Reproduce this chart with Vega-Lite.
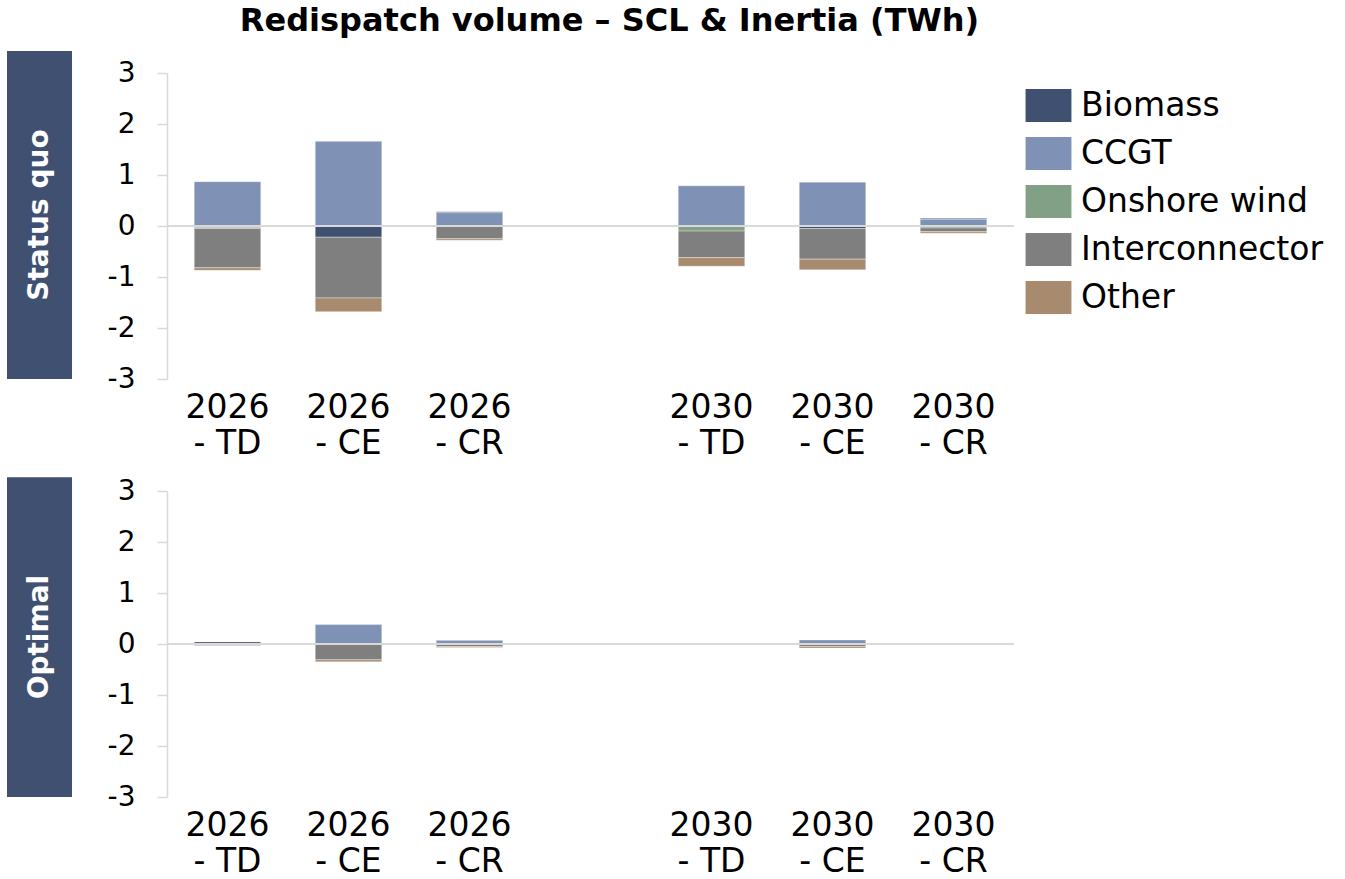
{
  "$schema": "https://vega.github.io/schema/vega-lite/v6.json",
  "padding": {"left": 7, "top": 5, "right": 5, "bottom": 5},
  "title": {"text": "Redispatch volume – SCL & Inertia (TWh)", "font": "DejaVu Sans", "fontSize": 32, "fontWeight": "bold", "color": "#000000", "anchor": "middle", "offset": 13, "dx": -64},
  "data": {"values": [
    {"panel": "Status quo", "scenario": "2026 - TD", "tech": "CCGT", "value": 0.87},
    {"panel": "Status quo", "scenario": "2026 - TD", "tech": "Biomass", "value": -0.03},
    {"panel": "Status quo", "scenario": "2026 - TD", "tech": "Onshore wind", "value": -0.02},
    {"panel": "Status quo", "scenario": "2026 - TD", "tech": "Interconnector", "value": -0.77},
    {"panel": "Status quo", "scenario": "2026 - TD", "tech": "Other", "value": -0.05},
    {"panel": "Status quo", "scenario": "2026 - CE", "tech": "CCGT", "value": 1.66},
    {"panel": "Status quo", "scenario": "2026 - CE", "tech": "Biomass", "value": -0.22},
    {"panel": "Status quo", "scenario": "2026 - CE", "tech": "Interconnector", "value": -1.19},
    {"panel": "Status quo", "scenario": "2026 - CE", "tech": "Other", "value": -0.27},
    {"panel": "Status quo", "scenario": "2026 - CR", "tech": "Biomass", "value": 0.02},
    {"panel": "Status quo", "scenario": "2026 - CR", "tech": "CCGT", "value": 0.26},
    {"panel": "Status quo", "scenario": "2026 - CR", "tech": "Interconnector", "value": -0.25},
    {"panel": "Status quo", "scenario": "2026 - CR", "tech": "Other", "value": -0.03},
    {"panel": "Status quo", "scenario": "2030 - TD", "tech": "CCGT", "value": 0.79},
    {"panel": "Status quo", "scenario": "2030 - TD", "tech": "Onshore wind", "value": -0.1},
    {"panel": "Status quo", "scenario": "2030 - TD", "tech": "Interconnector", "value": -0.52},
    {"panel": "Status quo", "scenario": "2030 - TD", "tech": "Other", "value": -0.17},
    {"panel": "Status quo", "scenario": "2030 - CE", "tech": "CCGT", "value": 0.86},
    {"panel": "Status quo", "scenario": "2030 - CE", "tech": "Biomass", "value": -0.05},
    {"panel": "Status quo", "scenario": "2030 - CE", "tech": "Interconnector", "value": -0.6},
    {"panel": "Status quo", "scenario": "2030 - CE", "tech": "Other", "value": -0.21},
    {"panel": "Status quo", "scenario": "2030 - CR", "tech": "Biomass", "value": 0.02},
    {"panel": "Status quo", "scenario": "2030 - CR", "tech": "CCGT", "value": 0.13},
    {"panel": "Status quo", "scenario": "2030 - CR", "tech": "Onshore wind", "value": -0.04},
    {"panel": "Status quo", "scenario": "2030 - CR", "tech": "Interconnector", "value": -0.07},
    {"panel": "Status quo", "scenario": "2030 - CR", "tech": "Other", "value": -0.03},
    {"panel": "Optimal", "scenario": "2026 - TD", "tech": "Biomass", "value": 0.03},
    {"panel": "Optimal", "scenario": "2026 - TD", "tech": "CCGT", "value": 0.01},
    {"panel": "Optimal", "scenario": "2026 - TD", "tech": "Interconnector", "value": -0.03},
    {"panel": "Optimal", "scenario": "2026 - TD", "tech": "Other", "value": -0.01},
    {"panel": "Optimal", "scenario": "2026 - CE", "tech": "CCGT", "value": 0.38},
    {"panel": "Optimal", "scenario": "2026 - CE", "tech": "Interconnector", "value": -0.31},
    {"panel": "Optimal", "scenario": "2026 - CE", "tech": "Other", "value": -0.04},
    {"panel": "Optimal", "scenario": "2026 - CR", "tech": "Biomass", "value": 0.01},
    {"panel": "Optimal", "scenario": "2026 - CR", "tech": "CCGT", "value": 0.07},
    {"panel": "Optimal", "scenario": "2026 - CR", "tech": "Interconnector", "value": -0.05},
    {"panel": "Optimal", "scenario": "2026 - CR", "tech": "Other", "value": -0.02},
    {"panel": "Optimal", "scenario": "2030 - TD", "tech": "CCGT", "value": 0.005},
    {"panel": "Optimal", "scenario": "2030 - CE", "tech": "CCGT", "value": 0.08},
    {"panel": "Optimal", "scenario": "2030 - CE", "tech": "Interconnector", "value": -0.05},
    {"panel": "Optimal", "scenario": "2030 - CE", "tech": "Other", "value": -0.03},
    {"panel": "Optimal", "scenario": "2030 - CR", "tech": "CCGT", "value": 0}
  ]},
  "spacing": 17,
  "resolve": {"scale": {"color": "shared"}},
  "vconcat": [
    {
      "bounds": "flush",
      "spacing": 95,
      "hconcat": [
        {
          "width": 65, "height": 306,
          "data": {"values": [{"panel": "Status quo"}]},
          "layer": [
            {"mark": {"type": "rect", "color": "#3F5070"},
             "encoding": {
               "x": {"datum": 0, "type": "quantitative", "scale": {"domain": [0, 1]}, "axis": null},
               "x2": {"datum": 1},
               "y": {"datum": 3.43, "type": "quantitative", "scale": {"domain": [-3, 3]}, "axis": null},
               "y2": {"datum": -3}}},
            {"mark": {"type": "text", "angle": 270, "color": "#FFFFFF", "font": "DejaVu Sans", "fontWeight": "bold", "fontSize": 28, "align": "center", "baseline": "middle"},
             "encoding": {
               "x": {"datum": 0.5, "type": "quantitative"},
               "y": {"datum": 0.215, "type": "quantitative"},
               "text": {"field": "panel"}}}
          ]
        },
        {
          "width": 847, "height": 306,
          "layer": [
            {
              "transform": [
                {"filter": "datum.panel === 'Status quo'"},
                {"calculate": "indexof(['CCGT','Biomass','Onshore wind','Interconnector','Other'], datum.tech)", "as": "ord"}
              ],
              "mark": {"type": "bar", "stroke": "#FFFFFF", "strokeWidth": 0.5, "strokeOpacity": 0.7},
              "encoding": {
                "x": {"field": "scenario", "type": "nominal",
                      "scale": {"domain": ["2026 - TD", "2026 - CE", "2026 - CR", "gap", "2030 - TD", "2030 - CE", "2030 - CR"], "paddingInner": 0.45, "paddingOuter": 0.225},
                      "axis": {"title": null, "domain": false, "ticks": false, "labelAngle": 0, "labelFontSize": 33, "labelLineHeight": 36, "labelPadding": 12, "labelOverlap": false, "labelColor": "#000000", "labelFont": "DejaVu Sans",
                               "labelExpr": "datum.value === 'gap' ? '' : [slice(datum.value, 0, 4), slice(datum.value, 5)]"}},
                "y": {"field": "value", "type": "quantitative", "stack": "zero",
                      "scale": {"domain": [-3, 3], "nice": false},
                      "axis": {"title": null, "values": [-3, -2, -1, 0, 1, 2, 3], "labelExpr": "replace(datum.label, '−', '-')", "grid": false, "domainColor": "#D9D9D9", "domainWidth": 1.5, "tickColor": "#D9D9D9", "tickWidth": 1.5, "tickSize": 10, "labelFontSize": 28, "labelPadding": 22, "labelColor": "#000000", "labelFont": "DejaVu Sans"}},
                "color": {"field": "tech", "type": "nominal",
                          "scale": {"domain": ["Biomass", "CCGT", "Onshore wind", "Interconnector", "Other"], "range": ["#3F5070", "#7F92B5", "#82A085", "#7F7F7F", "#A88B6E"]},
                          "legend": {"title": null, "orient": "right", "offset": 1, "padding": 16, "labelFontSize": 33, "labelFont": "DejaVu Sans", "labelColor": "#000000", "labelOffset": 16, "labelLimit": 500, "symbolType": "M-1.39,-1H1.39V1H-1.39Z", "symbolSize": 1089, "symbolStrokeWidth": 0, "symbolOpacity": 1, "rowPadding": 14}},
                "order": {"field": "ord", "type": "quantitative"}
              }
            },
            {
              "data": {"values": [{}]},
              "mark": {"type": "rule", "color": "#D9D9D9", "strokeWidth": 2},
              "encoding": {"y": {"datum": 0, "type": "quantitative"}}
            }
          ]
        }
      ]
    },
    {
      "bounds": "flush",
      "spacing": 95,
      "hconcat": [
        {
          "width": 65, "height": 306,
          "data": {"values": [{"panel": "Optimal"}]},
          "layer": [
            {"mark": {"type": "rect", "color": "#3F5070"},
             "encoding": {
               "x": {"datum": 0, "type": "quantitative", "scale": {"domain": [0, 1]}, "axis": null},
               "x2": {"datum": 1},
               "y": {"datum": 3.27, "type": "quantitative", "scale": {"domain": [-3, 3]}, "axis": null},
               "y2": {"datum": -3}}},
            {"mark": {"type": "text", "angle": 270, "color": "#FFFFFF", "font": "DejaVu Sans", "fontWeight": "bold", "fontSize": 28, "align": "center", "baseline": "middle"},
             "encoding": {
               "x": {"datum": 0.5, "type": "quantitative"},
               "y": {"datum": 0.135, "type": "quantitative"},
               "text": {"field": "panel"}}}
          ]
        },
        {
          "width": 847, "height": 306,
          "layer": [
            {
              "transform": [
                {"filter": "datum.panel === 'Optimal'"},
                {"calculate": "indexof(['CCGT','Biomass','Onshore wind','Interconnector','Other'], datum.tech)", "as": "ord"}
              ],
              "mark": {"type": "bar", "stroke": "#FFFFFF", "strokeWidth": 0.5, "strokeOpacity": 0.7},
              "encoding": {
                "x": {"field": "scenario", "type": "nominal",
                      "scale": {"domain": ["2026 - TD", "2026 - CE", "2026 - CR", "gap", "2030 - TD", "2030 - CE", "2030 - CR"], "paddingInner": 0.45, "paddingOuter": 0.225},
                      "axis": {"title": null, "domain": false, "ticks": false, "labelAngle": 0, "labelFontSize": 33, "labelLineHeight": 36, "labelPadding": 12, "labelOverlap": false, "labelColor": "#000000", "labelFont": "DejaVu Sans",
                               "labelExpr": "datum.value === 'gap' ? '' : [slice(datum.value, 0, 4), slice(datum.value, 5)]"}},
                "y": {"field": "value", "type": "quantitative", "stack": "zero",
                      "scale": {"domain": [-3, 3], "nice": false},
                      "axis": {"title": null, "values": [-3, -2, -1, 0, 1, 2, 3], "labelExpr": "replace(datum.label, '−', '-')", "grid": false, "domainColor": "#D9D9D9", "domainWidth": 1.5, "tickColor": "#D9D9D9", "tickWidth": 1.5, "tickSize": 10, "labelFontSize": 28, "labelPadding": 22, "labelColor": "#000000", "labelFont": "DejaVu Sans"}},
                "color": {"field": "tech", "type": "nominal",
                          "scale": {"domain": ["Biomass", "CCGT", "Onshore wind", "Interconnector", "Other"], "range": ["#3F5070", "#7F92B5", "#82A085", "#7F7F7F", "#A88B6E"]}},
                "order": {"field": "ord", "type": "quantitative"}
              }
            },
            {
              "data": {"values": [{}]},
              "mark": {"type": "rule", "color": "#D9D9D9", "strokeWidth": 2},
              "encoding": {"y": {"datum": 0, "type": "quantitative"}}
            }
          ]
        }
      ]
    }
  ],
  "config": {
    "view": {"stroke": null},
    "font": "DejaVu Sans",
    "background": "#FFFFFF"
  }
}
